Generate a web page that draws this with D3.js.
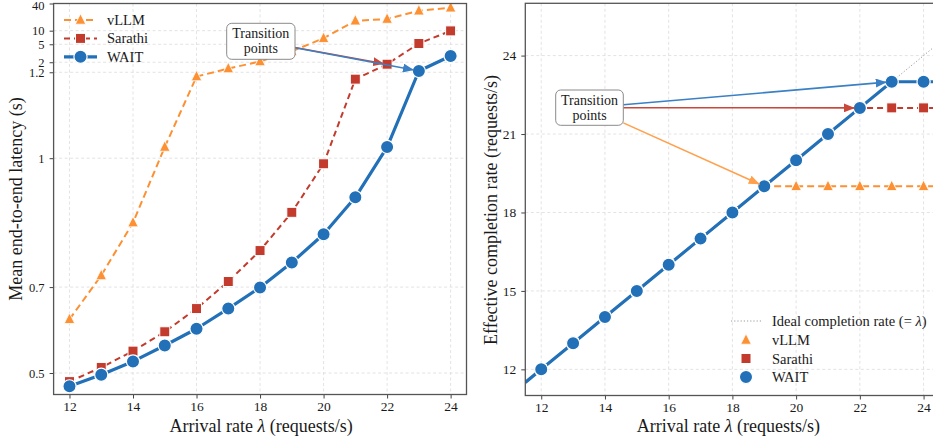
<!DOCTYPE html>
<html><head><meta charset="utf-8">
<script src="https://cdn.jsdelivr.net/npm/d3@7/dist/d3.min.js"></script>
<style>
body{margin:0;background:#fff}
text{font-family:"Liberation Serif","DejaVu Serif",serif;fill:#1a1a1a}
</style>
</head><body>
<svg id="c" width="933" height="440"></svg>
<script>
// ---------- data ----------
const lambdas = [12,13,14,15,16,17,18,19,20,21,22,23,24];
const latencyVLLM    = [0.625,0.727,0.850,1.026,1.19,1.45,2.08,3.5,6.8,16.6,18.1,27.6,32.2];
const latencySarathi = [0.480,0.513,0.551,0.596,0.650,0.713,0.785,0.874,0.987,1.184,1.81,5.2,9.9];
const latencyWAIT    = [0.469,0.496,0.527,0.564,0.603,0.650,0.699,0.757,0.823,0.909,1.026,1.28,2.76];
const rateVLLM    = [12,13,14,15,16,17,18,19,19,19,19,19,19];
const rateSarathi = [12,13,14,15,16,17,18,19,20,21,22,22,22];
const rateWAIT    = [12,13,14,15,16,17,18,19,20,21,22,23,23];
const xTicks = [12,14,16,18,20,22,24];
const latencyTicks = [0.5,0.7,1,1.2,2,5,10,40];
const rateTicks = [12,15,18,21,24];
const seriesNames = ["vLLM","Sarathi","WAIT"];
const transitionLambda = {vLLM:19, Sarathi:22, WAIT:23};

// ---------- styles ----------
const COL = {vLLM:"#fd9032", Sarathi:"#c33b2d", WAIT:"#2271b8"};
const ARROWCOL = {vLLM:"#ffa04c", Sarathi:"#c8493c", WAIT:"#3a80c4"};
const DASH = {vLLM:"7,4", Sarathi:"6,4", WAIT:null};
const LW = {vLLM:2, Sarathi:2, WAIT:3.2};

const svg = d3.select("#c");
const defs = svg.append("defs");
Object.keys(ARROWCOL).forEach(k=>{
  defs.append("marker").attr("id","ah-"+k).attr("markerUnits","userSpaceOnUse")
    .attr("markerWidth",11).attr("markerHeight",9).attr("refX",11).attr("refY",4.5)
    .attr("orient","auto").append("path").attr("d","M0,0L11,4.5L0,9Z").attr("fill",ARROWCOL[k]);
});

function drawMarker(g, name, cx, cy){
  if(name==="vLLM"){
    const h=10, w=10.5;
    g.append("path").attr("d",`M${cx},${cy-h*0.62}L${cx+w/2},${cy+h*0.42}L${cx-w/2},${cy+h*0.42}Z`)
      .attr("fill",COL.vLLM).attr("stroke","#fff").attr("stroke-width",0.8);
  } else if(name==="Sarathi"){
    const a=10;
    g.append("rect").attr("x",cx-a/2).attr("y",cy-a/2).attr("width",a).attr("height",a)
      .attr("fill",COL.Sarathi).attr("stroke","#fff").attr("stroke-width",1);
  } else {
    g.append("circle").attr("cx",cx).attr("cy",cy).attr("r",6.6)
      .attr("fill",COL.WAIT).attr("stroke","#fff").attr("stroke-width",1.2);
  }
}

function styleAxis(a, fs){
  a.select(".domain").remove();
  a.selectAll("line").attr("stroke","#444");
  a.selectAll("text").attr("font-size",fs).attr("fill","#1a1a1a").attr("font-family",'"Liberation Serif",serif');
}

function annotation(g, bx, by, bw, bh, targets){
  const cx=bx+bw/2, cy=by+bh/2;
  targets.forEach(t=>{
    const dx=t.x-cx, dy=t.y-cy;
    const s = Math.min(dx?Math.abs((bw/2)/dx):Infinity, dy?Math.abs((bh/2)/dy):Infinity);
    const sx=cx+dx*s, sy=cy+dy*s;
    const len=Math.hypot(t.x-sx,t.y-sy), shrink=t.shrink;
    const ex=t.x-(t.x-sx)/len*shrink, ey=t.y-(t.y-sy)/len*shrink;
    g.append("line").attr("x1",sx).attr("y1",sy).attr("x2",ex).attr("y2",ey)
      .attr("stroke",ARROWCOL[t.name]).attr("stroke-width",1.6).attr("marker-end",`url(#ah-${t.name})`);
  });
  g.append("rect").attr("x",bx).attr("y",by).attr("width",bw).attr("height",bh).attr("rx",5)
    .attr("fill","#fff").attr("stroke","#8a8a8a").attr("stroke-width",1);
  const tx=g.append("text").attr("text-anchor","middle").attr("font-size",14);
  tx.append("tspan").attr("x",cx).attr("y",cy-3).text("Transition");
  tx.append("tspan").attr("x",cx).attr("y",cy+12).text("points");
}

// ============ LEFT: latency ============
{
  const g = svg.append("g");
  const L=53.6, R=466.5, B=394.5, TOP=3.5;
  const x = d3.scaleLinear().domain([11.5,24.5]).range([L,R]);
  // piecewise axis: linear below 1.2, logarithmic above
  const brk = 1.2, decadeUnits = 0.1051;
  const T = v => v<=brk ? v : brk + (Math.log10(v)-Math.log10(brk))*decadeUnits;
  const yT = d3.scaleLinear().domain([T(0.45), T(40)]).range([B, TOP]);
  const y = v => yT(T(v));
  g.append("clipPath").attr("id","clipL").append("rect").attr("x",L).attr("y",TOP).attr("width",R-L).attr("height",B-TOP);
  const grid = g.append("g").attr("stroke","#dcdcdc").attr("stroke-width",0.8).attr("stroke-dasharray","3,2.5");
  latencyTicks.forEach(t=>grid.append("line").attr("x1",L).attr("x2",R).attr("y1",y(t)).attr("y2",y(t)));
  xTicks.forEach(t=>grid.append("line").attr("x1",x(t)).attr("x2",x(t)).attr("y1",TOP).attr("y2",B));

  const data = {vLLM:latencyVLLM, Sarathi:latencySarathi, WAIT:latencyWAIT};
  const plot = g.append("g").attr("clip-path","url(#clipL)");
  const line = d3.line().x(d=>x(d[0])).y(d=>y(d[1]));
  seriesNames.forEach(n=>{
    const pts = lambdas.map((l,i)=>[l,data[n][i]]);
    plot.append("path").attr("d",line(pts)).attr("fill","none").attr("stroke",COL[n])
      .attr("stroke-width",LW[n]).attr("stroke-dasharray",DASH[n]).attr("stroke-linejoin","round");
    pts.forEach(p=>drawMarker(plot,n,x(p[0]),y(p[1])));
  });
  const ax = g.append("g").attr("transform",`translate(0,${B})`)
    .call(d3.axisBottom(x).tickValues(xTicks).tickSize(4).tickPadding(3).tickFormat(d3.format("d")));
  const tmap = new Map(latencyTicks.map(t=>[T(t),t]));
  const ay = g.append("g").attr("transform",`translate(${L},0)`)
    .call(d3.axisLeft(yT).tickValues(latencyTicks.map(T)).tickSize(4).tickPadding(5).tickFormat(v=>String(tmap.get(v))));
  styleAxis(ax,13.5); styleAxis(ay,12.5);
  ay.selectAll(".tick text").filter(v=>tmap.get(v)===40).attr("dy","0.45em");
  g.append("rect").attr("x",L).attr("y",TOP).attr("width",R-L).attr("height",B-TOP)
    .attr("fill","none").attr("stroke","#555").attr("stroke-width",1.3);
  g.append("text").attr("x",(L+R)/2+1).attr("y",432).attr("text-anchor","middle").attr("font-size",18)
    .html('Arrival rate <tspan font-style="italic">λ</tspan> (requests/s)');
  g.append("text").attr("transform","translate(22,199) rotate(-90)").attr("text-anchor","middle").attr("font-size",18)
    .text("Mean end-to-end latency (s)");
  const lg = g.append("g");
  seriesNames.forEach((n,i)=>{
    const yy = 20 + i*18.4;
    lg.append("line").attr("x1",64).attr("x2",97).attr("y1",yy).attr("y2",yy).attr("stroke",COL[n])
      .attr("stroke-width",LW[n]).attr("stroke-dasharray",DASH[n]);
    drawMarker(lg,n,80.5,yy);
    lg.append("text").attr("x",107).attr("y",yy+5).attr("font-size",14.5).text(n);
  });
  const tgt = ["Sarathi","WAIT"].map(n=>{
    const i = lambdas.indexOf(transitionLambda[n]);
    return {name:n, x:x(lambdas[i]), y:y(data[n][i]), shrink: n==="WAIT"?5:3};
  });
  annotation(g, 226.7, 23.3, 68.3, 36, tgt);
}

// ============ RIGHT: completion rate ============
{
  const g = svg.append("g");
  const x = d3.scaleLinear().domain([11.5,24.5]).range([525.3,939.5]);
  const y = d3.scaleLinear().domain([11,26]).range([395.5,3.3]);
  const x0=525.3, x1=933, y0=395.5, y1=3.3;
  g.append("clipPath").attr("id","clipR").append("rect").attr("x",x0).attr("y",y1).attr("width",x1-x0+10).attr("height",y0-y1);
  const grid = g.append("g").attr("stroke","#dcdcdc").attr("stroke-width",0.8).attr("stroke-dasharray","3,2.5");
  xTicks.forEach(t=>grid.append("line").attr("x1",x(t)).attr("x2",x(t)).attr("y1",y1).attr("y2",y0));
  rateTicks.forEach(t=>grid.append("line").attr("x1",x0).attr("x2",x1).attr("y1",y(t)).attr("y2",y(t)));

  const plot = g.append("g").attr("clip-path","url(#clipR)");
  const [dx0,dx1] = x.domain();
  plot.append("line").attr("x1",x(dx0)).attr("y1",y(dx0)).attr("x2",x(dx1)).attr("y2",y(dx1))
    .attr("stroke","#9a9a9a").attr("stroke-width",1).attr("stroke-dasharray","1.2,2");
  const data = {vLLM:rateVLLM, Sarathi:rateSarathi, WAIT:rateWAIT};
  const line = d3.line().x(d=>x(d[0])).y(d=>y(d[1]));
  seriesNames.forEach(n=>{
    const v = data[n];
    const pts = lambdas.map((l,i)=>[l,v[i]]);
    const slope0 = (v[1]-v[0])/(lambdas[1]-lambdas[0]);
    const ext = [[dx0, v[0]-(lambdas[0]-dx0)*slope0], ...pts, [dx1, v[v.length-1]]];
    plot.append("path").attr("d",line(ext)).attr("fill","none").attr("stroke",COL[n])
      .attr("stroke-width",LW[n]).attr("stroke-dasharray",DASH[n]).attr("stroke-linejoin","round");
  });
  seriesNames.forEach(n=>{
    lambdas.forEach((l,i)=>drawMarker(plot,n,x(l),y(data[n][i])));
  });
  const ax = g.append("g").attr("transform",`translate(0,${y0})`)
    .call(d3.axisBottom(x).tickValues(xTicks).tickSize(4).tickPadding(3).tickFormat(d3.format("d")));
  const ay = g.append("g").attr("transform",`translate(${x0},0)`)
    .call(d3.axisLeft(y).tickValues(rateTicks).tickSize(4).tickPadding(5).tickFormat(d3.format("d")));
  styleAxis(ax,13.5); styleAxis(ay,13.5);
  g.append("rect").attr("x",x0).attr("y",y1).attr("width",x(dx1)-x0).attr("height",y0-y1)
    .attr("fill","none").attr("stroke","#555").attr("stroke-width",1.3);
  g.append("text").attr("x",(x0+x(dx1))/2-4).attr("y",432).attr("text-anchor","middle").attr("font-size",18)
    .html('Arrival rate <tspan font-style="italic">λ</tspan> (requests/s)');
  g.append("text").attr("transform","translate(497,210) rotate(-90)").attr("text-anchor","middle").attr("font-size",18)
    .text("Effective completion rate (requests/s)");
  const lg = g.append("g");
  lg.append("line").attr("x1",731).attr("x2",761).attr("y1",321).attr("y2",321)
    .attr("stroke","#9a9a9a").attr("stroke-width",1).attr("stroke-dasharray","1.2,2");
  lg.append("text").attr("x",772).attr("y",326).attr("font-size",14.5)
    .html('Ideal completion rate (= <tspan font-style="italic">λ</tspan>)');
  seriesNames.forEach((n,i)=>{
    const yy = 340 + i*18.5;
    drawMarker(lg,n,746,yy);
    lg.append("text").attr("x",772).attr("y",yy+5).attr("font-size",14.5).text(n);
  });
  const tgt = ["WAIT","Sarathi","vLLM"].map(n=>{
    const i = lambdas.indexOf(transitionLambda[n]);
    return {name:n, x:x(lambdas[i]), y:y(data[n][i]), shrink:5};
  });
  annotation(g, 555.7, 90, 67.6, 35.3, tgt);
}
</script>
</body></html>
